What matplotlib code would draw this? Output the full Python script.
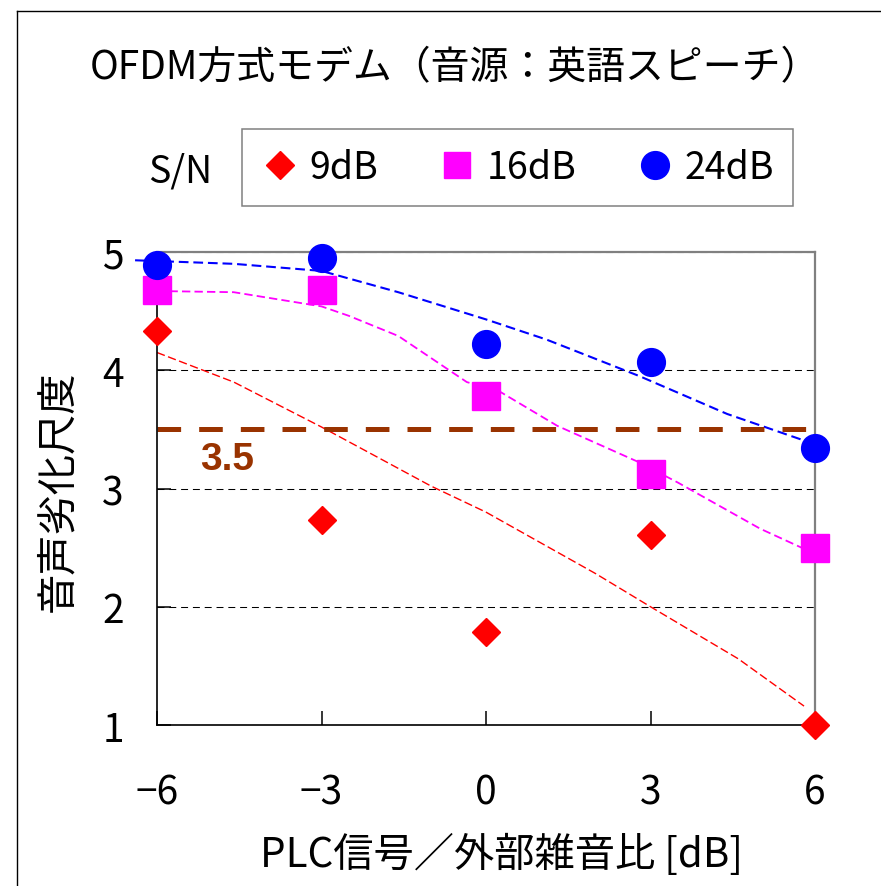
import matplotlib
matplotlib.use("Agg")
import matplotlib.pyplot as plt
from matplotlib.lines import Line2D

plt.rcParams['font.family'] = ['Noto Sans CJK JP', 'DejaVu Sans']
plt.rcParams['lines.scale_dashes'] = False

# measured points
x = [-6, -3, 0, 3, 6]
s9 = [4.33, 2.73, 1.79, 2.61, 1.0]
s16 = [4.68, 4.68, 3.78, 3.12, 2.50]
s24 = [4.89, 4.95, 4.22, 4.07, 3.34]

# dashed trend curves
red_tx = [-6, -4.6, -3, -1, 0, 2, 3, 4.6, 5.8]
red_ty = [4.15, 3.90, 3.52, 3.02, 2.80, 2.28, 2.0, 1.56, 1.16]
mag_tx = [-6, -4.6, -3, -2.5, -1.6, -0.35, 0.25, 1.3, 2.8, 3.5, 5.0, 5.8]
mag_ty = [4.67, 4.66, 4.54, 4.46, 4.29, 3.90, 3.82, 3.53, 3.22, 3.05, 2.66, 2.49]
blue_tx = [-6.4, -4.6, -3, -1.6, 0, 1.1, 2.8, 4.4, 5.9]
blue_ty = [4.93, 4.90, 4.84, 4.66, 4.43, 4.26, 3.95, 3.63, 3.39]

threshold = 3.5
xticks = [-6, -3, 0, 3, 6]
yticks = [1, 2, 3, 4, 5]
labels = ['9dB', '16dB', '24dB']

W, H = 881, 887
fig = plt.figure(figsize=(W / 100, H / 100), dpi=100)
ax = fig.add_axes([157 / W, 1 - 726 / H, (815 - 157) / W, (726 - 253) / H])

ax.plot(red_tx, red_ty, color='red', lw=1.0, dashes=(6, 2.5), zorder=2)
ax.plot(mag_tx, mag_ty, color='magenta', lw=1.3, dashes=(6, 3), zorder=2)
ax.plot(blue_tx, blue_ty, color='blue', lw=1.5, dashes=(7, 3.5), zorder=2, clip_on=False)

ax.plot([-6, 6], [threshold, threshold], color='#993300', lw=3.6, dashes=(17, 13), zorder=2)
ax.text(-4.72, 3.25, '3.5', color='#993300', fontsize=28, fontweight='bold',
        family='Liberation Sans', ha='center', va='center')

ax.plot(x, s9, ls='none', marker='D', ms=14, color='red', mec='red', zorder=4, clip_on=False)
ax.plot(x, s16, ls='none', marker='s', ms=20, color='magenta', mec='magenta', zorder=4, clip_on=False)
ax.plot(x, s24, ls='none', marker='o', ms=20, color='blue', mec='blue', zorder=5, clip_on=False)

ax.set_xlim(-6, 6)
ax.set_ylim(1, 5)
ax.set_xticks(xticks)
ax.set_xticklabels(['\u22126', '\u22123', '0', '3', '6'])
ax.set_yticks(yticks)
ax.tick_params(axis='both', direction='in', length=10, width=1.1, labelsize=28)
ax.tick_params(axis='x', pad=34)
ax.tick_params(axis='y', pad=24)
ax.grid(axis='y', color='black', lw=0.75, dashes=(5, 3.5))
ax.set_axisbelow(True)

for side in ['left', 'bottom']:
    ax.spines[side].set_color('black')
    ax.spines[side].set_linewidth(1.2)
for side in ['top', 'right']:
    ax.spines[side].set_color('#808080')
    ax.spines[side].set_linewidth(1.6)

fig.text(455 / W, 1 - 68 / H, 'OFDM方式モデム（音源：英語スピーチ）',
         ha='center', va='center', fontsize=28)
fig.text(58 / W, 1 - 491 / H, '音声劣化尺度', rotation=90,
         ha='center', va='center', fontsize=29)
fig.text(501 / W, 1 - 855 / H, 'PLC信号／外部雑音比 [dB]',
         ha='center', va='center', fontsize=29)
fig.text(180 / W, 1 - 172 / H, 'S/N', ha='center', va='center', fontsize=27)

handles = [
    Line2D([], [], ls='none', marker='D', ms=14, color='red'),
    Line2D([], [], ls='none', marker='s', ms=19, color='magenta'),
    Line2D([], [], ls='none', marker='o', ms=20, color='blue'),
]
leg = fig.legend(handles, labels, loc='center', ncol=3, mode='expand',
                 bbox_to_anchor=(242 / W, 1 - 208 / H, 551 / W, 79 / H),
                 fontsize=27, frameon=True, fancybox=False, framealpha=1,
                 edgecolor='#808080', handlelength=1.0, handletextpad=0.3,
                 borderpad=0.5, borderaxespad=0, columnspacing=1.0)
leg.get_frame().set_linewidth(1.1)

# outer chart frame (top and left edges visible)
fig.add_artist(Line2D([17 / W, 1.0], [1 - 12 / H, 1 - 12 / H], transform=fig.transFigure,
                      color='black', lw=1.0))
fig.add_artist(Line2D([17 / W, 17 / W], [0, 1 - 12 / H], transform=fig.transFigure,
                      color='black', lw=1.0))

fig.savefig('out.png', dpi=100)
